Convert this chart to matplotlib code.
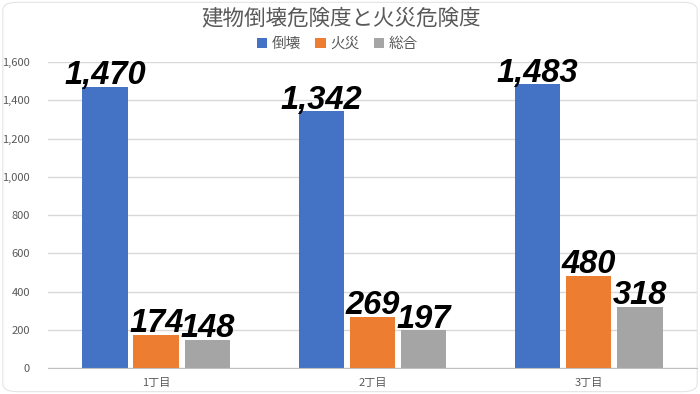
import matplotlib.pyplot as plt
from matplotlib.patches import FancyBboxPatch
import numpy as np

plt.rcParams['font.family'] = ['Noto Sans CJK JP', 'DejaVu Sans']

categories = ['1丁目', '2丁目', '3丁目']
series_names = ['倒壊', '火災', '総合']
collapse = [1470, 1342, 1483]
fire = [174, 269, 480]
total = [148, 197, 318]
colors = ['#4472C4', '#ED7D31', '#A5A5A5']

fig = plt.figure(figsize=(7, 3.94), dpi=100)
fig.patches.append(FancyBboxPatch((0.004, 0.006), 0.992, 0.988, boxstyle="round,pad=0,rounding_size=0.02",
                                  transform=fig.transFigure, facecolor='white', edgecolor='#E4E4E4',
                                  linewidth=0.8, zorder=-1))
ax = fig.add_axes([0.0686, 0.066, 0.927, 0.7766])
ax.set_facecolor('none')

x = np.arange(len(categories))
width = 0.21
step = 0.236
for i, (vals, name, c) in enumerate(zip([collapse, fire, total], series_names, colors)):
    pos = x + (i - 1) * step
    ax.bar(pos, vals, width, color=c, label=name, zorder=2)
    for xp, v in zip(pos, vals):
        ax.annotate(f'{v:,}', (xp, v), xytext=(0, 2), textcoords='offset points',
                    ha='center', va='baseline', fontsize=23.5, fontweight='bold', fontstyle='italic',
                    family=['Liberation Sans', 'DejaVu Sans'], color='black', zorder=3)

ax.set_xlim(-0.5, 2.5)
ax.set_ylim(0, 1600)
ax.set_yticks(range(0, 1601, 200))
ax.set_yticklabels([f'{v:,}' for v in range(0, 1601, 200)])
ax.set_xticks(x)
ax.set_xticklabels(categories)
ax.tick_params(axis='both', length=0, colors='#595959', labelsize=8)
ax.tick_params(axis='y', pad=13)
ax.tick_params(axis='x', pad=7)
ax.grid(axis='y', color='#D9D9D9', linewidth=1, zorder=0)
for s in ['top', 'right', 'left']:
    ax.spines[s].set_visible(False)
ax.spines['bottom'].set_color('#BFBFBF')
ax.spines['bottom'].set_zorder(2.5)

fig.text(0.487, 0.954, '建物倒壊危険度と火災危険度', ha='center', va='center', fontsize=15.5, color='#595959')
fig.legend(loc='center', bbox_to_anchor=(0.482, 0.888), ncol=3, frameon=False, fontsize=10.5,
           handlelength=0.7, handleheight=0.7, handletextpad=0.3, columnspacing=1.0,
           labelcolor='#595959')

plt.savefig('out.png', dpi=100)
